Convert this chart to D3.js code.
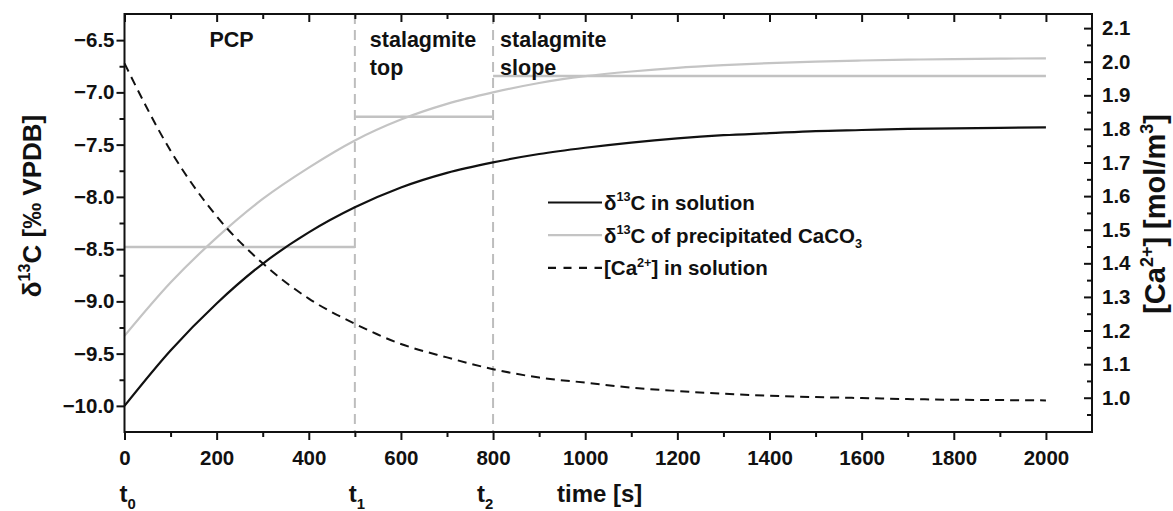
<!DOCTYPE html>
<html>
<head>
<meta charset="utf-8">
<script src="https://cdn.jsdelivr.net/npm/d3@7"></script>
<style>
  html, body { margin: 0; padding: 0; background: #fff; }
  svg { display: block; }
  text { font-family: "Liberation Sans", Arial, sans-serif; font-weight: bold; fill: #111; }
</style>
</head>
<body>
<script>
// ---------------- data ----------------
const times = [0,100,200,300,400,500,600,700,800,900,1000,1100,1200,1300,1400,1500,1600,1700,1800,1900,2000];
const d13cSolution = [-10.00,-9.47,-9.02,-8.64,-8.34,-8.10,-7.91,-7.77,-7.67,-7.59,-7.53,-7.48,-7.44,-7.41,-7.39,-7.37,-7.36,-7.35,-7.345,-7.34,-7.335];
const d13cPrecip = [-9.33,-8.82,-8.39,-8.02,-7.72,-7.46,-7.26,-7.11,-7.00,-6.91,-6.845,-6.80,-6.765,-6.74,-6.72,-6.705,-6.695,-6.687,-6.681,-6.677,-6.674];
const caSolution = [1.995,1.735,1.54,1.40,1.295,1.22,1.16,1.12,1.085,1.06,1.045,1.03,1.02,1.012,1.006,1.002,0.999,0.996,0.994,0.993,0.992];
// mean δ13C of precipitated CaCO3 per zone
const zoneStart = [0, 500, 800];
const zoneEnd = [500, 800, 2000];
const zoneMean = [-8.48, -7.233, -6.843];
const zoneBounds = [500, 800];
const xTicks = [0,200,400,600,800,1000,1200,1400,1600,1800,2000];
const xMinor = [100,300,500,700,900,1100,1300,1500,1700,1900];
const yLeftTicks = [-10.0,-9.5,-9.0,-8.5,-8.0,-7.5,-7.0,-6.5];
const yLeftMinor = [-9.75,-9.25,-8.75,-8.25,-7.75,-7.25,-6.75];
const yRightTicks = [1.0,1.1,1.2,1.3,1.4,1.5,1.6,1.7,1.8,1.9,2.0,2.1];
const yRightMinor = [0.95,1.05,1.15,1.25,1.35,1.45,1.55,1.65,1.75,1.85,1.95,2.05];

// ---------------- layout ----------------
const W = 1173, H = 511;
const L = 124.5, R = 1092, T = 14, B = 432;

const svg = d3.select("body").append("svg").attr("width", W).attr("height", H);

const x = d3.scaleLinear().domain([0, 2100]).range([L, R]);
const yL = d3.scaleLinear().domain([-10.25, -6.25]).range([B, T]);
const yR = d3.scaleLinear().domain([0.898, 2.142]).range([B, T]);

// rich text helper
function rich(sel, parts, fs) {
  let shift = 0;
  parts.forEach(p => {
    const ts = sel.append("tspan").text(p.t);
    let target = 0, size = fs;
    if (p.sup) { target = -0.42 * fs; size = fs * 0.62; }
    if (p.sub) { target = 0.28 * fs; size = fs * 0.62; }
    ts.attr("font-size", size).attr("dy", target - shift);
    shift = target;
  });
}

// zone boundaries
svg.append("g").selectAll("line").data(zoneBounds).join("line")
  .attr("x1", d => x(d)).attr("x2", d => x(d))
  .attr("y1", T).attr("y2", B)
  .attr("stroke", "#bdbdbd").attr("stroke-width", 2).attr("stroke-dasharray", "10,6");

// zone means
svg.append("g").selectAll("line").data(zoneMean).join("line")
  .attr("x1", (d, i) => x(zoneStart[i])).attr("x2", (d, i) => x(zoneEnd[i]))
  .attr("y1", d => yL(d)).attr("y2", d => yL(d))
  .attr("stroke", "#c2c2c2").attr("stroke-width", 2.4);

const lineL = (vals) => d3.line().x((d, i) => x(times[i])).y(d => yL(d)).curve(d3.curveMonotoneX)(vals);
const lineR = (vals) => d3.line().x((d, i) => x(times[i])).y(d => yR(d)).curve(d3.curveMonotoneX)(vals);

svg.append("path").attr("d", lineL(d13cPrecip)).attr("fill", "none")
  .attr("stroke", "#c4c4c4").attr("stroke-width", 2.2);
svg.append("path").attr("d", lineL(d13cSolution)).attr("fill", "none")
  .attr("stroke", "#111").attr("stroke-width", 2.2);
svg.append("path").attr("d", lineR(caSolution)).attr("fill", "none")
  .attr("stroke", "#111").attr("stroke-width", 2).attr("stroke-dasharray", "9,6");

// ---------------- axes ----------------
function styleAxis(g) {
  g.select(".domain").remove();
  g.selectAll("line").attr("stroke", "#111").attr("stroke-width", 2);
  g.selectAll("text").attr("font-size", 20.5).attr("fill", "#111")
    .attr("font-family", "'Liberation Sans', Arial, sans-serif").attr("font-weight", "bold");
}
const fmt1 = d3.format(".1f");

svg.append("g").attr("transform", `translate(0,${B})`)
  .call(d3.axisBottom(x).tickValues(xTicks).tickFormat(d3.format("d")).tickSize(8).tickPadding(10))
  .call(styleAxis);
svg.append("g").attr("transform", `translate(0,${B})`)
  .call(d3.axisBottom(x).tickValues(xMinor).tickFormat("").tickSize(5))
  .call(styleAxis);
svg.append("g").attr("transform", `translate(0,${T})`)
  .call(d3.axisTop(x).tickValues(xTicks).tickFormat("").tickSize(-8))
  .call(styleAxis);
svg.append("g").attr("transform", `translate(0,${T})`)
  .call(d3.axisTop(x).tickValues(xMinor).tickFormat("").tickSize(-5))
  .call(styleAxis);

svg.append("g").attr("transform", `translate(${L},0)`)
  .call(d3.axisLeft(yL).tickValues(yLeftTicks).tickFormat(fmt1).tickSize(8).tickPadding(2))
  .call(styleAxis);
svg.append("g").attr("transform", `translate(${L},0)`)
  .call(d3.axisLeft(yL).tickValues(yLeftMinor).tickFormat("").tickSize(5))
  .call(styleAxis);

svg.append("g").attr("transform", `translate(${R},0)`)
  .call(d3.axisRight(yR).tickValues(yRightTicks).tickFormat(fmt1).tickSize(-8).tickPadding(10))
  .call(styleAxis);
svg.append("g").attr("transform", `translate(${R},0)`)
  .call(d3.axisRight(yR).tickValues(yRightMinor).tickFormat("").tickSize(-5))
  .call(styleAxis);

// frame
svg.append("rect").attr("x", L).attr("y", T).attr("width", R - L).attr("height", B - T)
  .attr("fill", "none").attr("stroke", "#111").attr("stroke-width", 2);

// ---------------- titles ----------------
const yTitleL = svg.append("text").attr("text-anchor", "middle")
  .attr("transform", `translate(41,206) rotate(-90)`).attr("font-size", 26);
rich(yTitleL, [{t: "δ"}, {t: "13", sup: true}, {t: "C [‰ VPDB]"}], 26);

const yTitleR = svg.append("text").attr("text-anchor", "middle")
  .attr("transform", `translate(1165,214) rotate(-90)`).attr("font-size", 29);
rich(yTitleR, [{t: "[Ca"}, {t: "2+", sup: true}, {t: "] [mol/m"}, {t: "3", sup: true}, {t: "]"}], 29);

svg.append("text").attr("x", 557).attr("y", 502).attr("font-size", 24).text("time [s]");

const tLabels = [{n: "0", t: 0, dx: -5}, {n: "1", t: 500, dx: -6}, {n: "2", t: 800, dx: -16}];
tLabels.forEach(d => {
  const tx = svg.append("text").attr("x", x(d.t) + d.dx).attr("y", 502).attr("font-size", 24);
  rich(tx, [{t: "t"}, {t: d.n, sub: true}], 24);
});

// zone names
svg.append("text").attr("x", 231.5).attr("y", 47).attr("text-anchor", "middle").attr("font-size", 21.5).text("PCP");
[["stalagmite", "top", 500], ["stalagmite", "slope", 800]].forEach(([a, b, t]) => {
  const dx = t === 500 ? 15 : 7;
  svg.append("text").attr("x", x(t) + dx).attr("y", 47).attr("font-size", 21.5).text(a);
  svg.append("text").attr("x", x(t) + dx).attr("y", 75).attr("font-size", 21.5).text(b);
});

// ---------------- legend ----------------
const legend = [
  {parts: [{t: "δ"}, {t: "13", sup: true}, {t: "C in solution"}], color: "#111", dash: null},
  {parts: [{t: "δ"}, {t: "13", sup: true}, {t: "C of precipitated CaCO"}, {t: "3", sub: true}], color: "#c4c4c4", dash: null},
  {parts: [{t: "[Ca"}, {t: "2+", sup: true}, {t: "] in solution"}], color: "#111", dash: "8,7.5"}
];
legend.forEach((d, i) => {
  const by = 210 + i * 32.7;
  svg.append("line").attr("x1", 548).attr("x2", 602).attr("y1", by - 7.5).attr("y2", by - 7.5)
    .attr("stroke", d.color).attr("stroke-width", 2.2).attr("stroke-dasharray", d.dash);
  const tx = svg.append("text").attr("x", 604).attr("y", by).attr("font-size", 20.5);
  rich(tx, d.parts, 20.5);
});
</script>
</body>
</html>
